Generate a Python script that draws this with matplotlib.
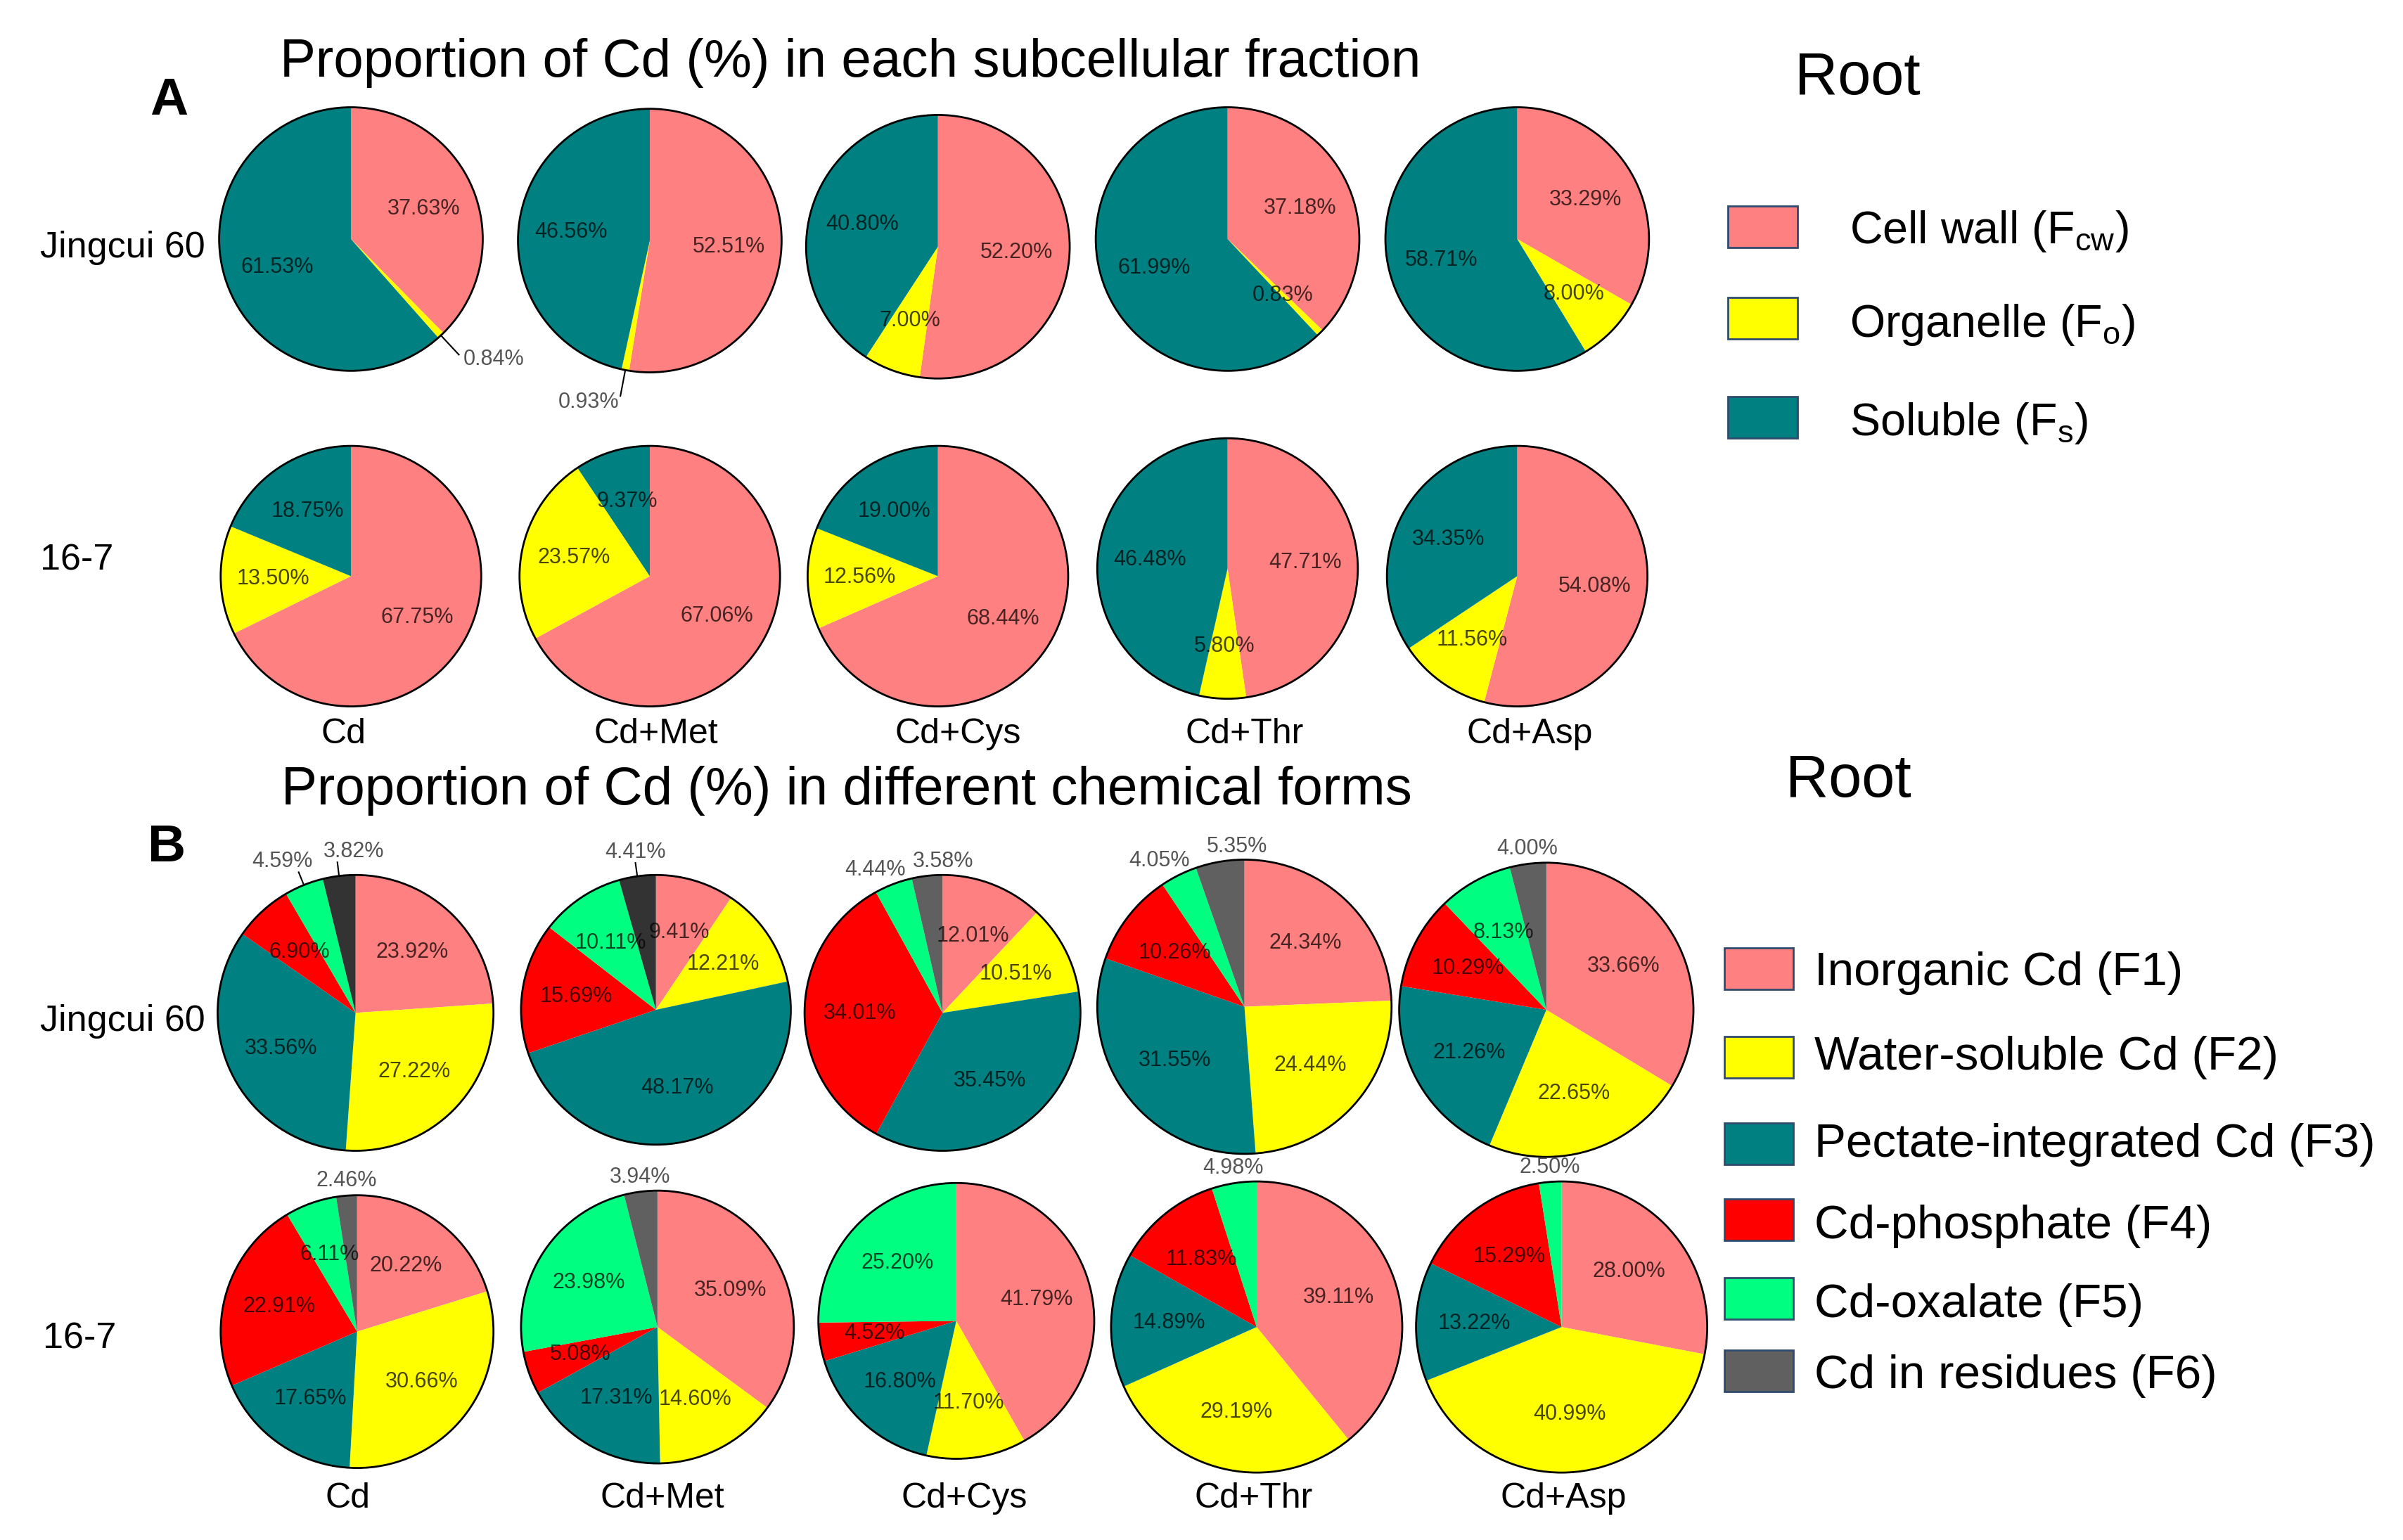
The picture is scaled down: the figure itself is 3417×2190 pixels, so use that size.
import numpy as np
import matplotlib
matplotlib.use('Agg')
import matplotlib.pyplot as plt
from matplotlib.patches import Rectangle, Ellipse
from matplotlib import font_manager

plt.rcParams['font.family'] = ['Liberation Sans', 'DejaVu Sans']
plt.rcParams['mathtext.fontset'] = 'custom'
plt.rcParams['mathtext.rm'] = 'Liberation Sans'
plt.rcParams['mathtext.it'] = 'Liberation Sans:italic'
plt.rcParams['mathtext.bf'] = 'Liberation Sans:bold'

# ---------------- data ----------------
treatments = ['Cd', 'Cd+Met', 'Cd+Cys', 'Cd+Thr', 'Cd+Asp']
cultivars = ['Jingcui 60', '16-7']

title_A = 'Proportion of Cd (%) in each subcellular fraction'
title_B = 'Proportion of Cd (%) in different chemical forms'
tissue = 'Root'

fractions_A = ['Cell wall (F$_{\\mathrm{cw}}$)', 'Organelle (F$_{\\mathrm{o}}$)',
               'Soluble (F$_{\\mathrm{s}}$)']
cell_wall_jc60 = [37.63, 52.51, 52.20, 37.18, 33.29]
organelle_jc60 = [0.84, 0.93, 7.00, 0.83, 8.00]
soluble_jc60 = [61.53, 46.56, 40.80, 61.99, 58.71]
cell_wall_167 = [67.75, 67.06, 68.44, 47.71, 54.08]
organelle_167 = [13.50, 23.57, 12.56, 5.80, 11.56]
soluble_167 = [18.75, 9.37, 19.00, 46.48, 34.35]

forms_B = ['Inorganic Cd (F1)', 'Water-soluble Cd (F2)', 'Pectate-integrated Cd (F3)',
           'Cd-phosphate (F4)', 'Cd-oxalate (F5)', 'Cd in residues (F6)']
f1_jc60 = [23.92, 9.41, 12.01, 24.34, 33.66]
f2_jc60 = [27.22, 12.21, 10.51, 24.44, 22.65]
f3_jc60 = [33.56, 48.17, 35.45, 31.55, 21.26]
f4_jc60 = [6.90, 15.69, 34.01, 10.26, 10.29]
f5_jc60 = [4.59, 10.11, 4.44, 4.05, 8.13]
f6_jc60 = [3.82, 4.41, 3.58, 5.35, 4.00]
f1_167 = [20.22, 35.09, 41.79, 39.11, 28.00]
f2_167 = [30.66, 14.60, 11.70, 29.19, 40.99]
f3_167 = [17.65, 17.31, 16.80, 14.89, 13.22]
f4_167 = [22.91, 5.08, 4.52, 11.83, 15.29]
f5_167 = [6.11, 23.98, 25.20, 4.98, 2.50]
f6_167 = [2.46, 3.94, 0.00, 0.00, 0.00]

# ---------------- style ----------------
PINK, YELLOW, TEAL, RED, GREEN, GRAY = '#FF8080', '#FFFF00', '#008080', '#FF0000', '#00FF80', '#606060'
DARK = '#333333'
colors_A = [PINK, YELLOW, TEAL]
colors_B = [PINK, YELLOW, TEAL, RED, GREEN, GRAY]
BOX_EDGE = '#2f4b6e'
LBL = (0, 0, 0, 0.72)
OUT_LBL = '#555555'

_installed = {f.name for f in font_manager.fontManager.ttflist}
if 'Liberation Sans Narrow' in _installed:
    PCT_FAMILY, PCT_FS = ['Liberation Sans Narrow', 'DejaVu Sans'], 25
else:
    PCT_FAMILY, PCT_FS = ['Liberation Sans', 'DejaVu Sans'], 22

# ---------------- layout (reference-scale units) ----------------
W, H = 1568.0, 1005.0
fig = plt.figure(figsize=(34.17, 21.90), dpi=100)
fig.patch.set_facecolor('white')
ov = fig.add_axes([0, 0, 1, 1])
ov.set_xlim(0, W)
ov.set_ylim(H, 0)
ov.axis('off')

A_cx = [[229, 424, 612, 801, 990], [229, 424, 612, 801, 990]]
A_cy = [[156, 157, 161, 156, 156], [376, 376, 376, 371, 376]]
A_r = [[86, 86, 86, 86, 86], [85, 85, 85, 85, 85]]
B_cx = [[232, 428, 615, 812, 1009], [233, 429, 624, 820, 1019]]
B_cy = [[661, 659, 661, 657, 659], [869, 866, 862, 866, 866]]
B_r = [[90, 88, 90, 96, 96], [89, 89, 90, 95, 95]]


def draw_pie(cx, cy, r, vals, cols, mode, outside=(), leader=False):
    ax = fig.add_axes([(cx - r) / W, 1 - (cy + r) / H, 2 * r / W, 2 * r / H])
    vals = np.asarray(vals, dtype=float)
    idx = [i for i, v in enumerate(vals) if v > 0]
    wedges, _ = ax.pie(vals[idx], colors=[cols[i] for i in idx], startangle=90,
                       counterclock=False, radius=1, wedgeprops=dict(linewidth=0))
    ax.add_patch(Ellipse((0, 0), 2, 2, fill=False, ec='black', lw=2, clip_on=False, zorder=5))
    ax.set_xlim(-1, 1)
    ax.set_ylim(-1, 1)
    ax.set_aspect('auto')
    ax.axis('off')
    n_out = len([i for i in outside if i in idx])
    for w, i in zip(wedges, idx):
        v = vals[i]
        mid = np.deg2rad((w.theta1 + w.theta2) / 2)
        c, s = np.cos(mid), np.sin(mid)
        txt = f'{v:.2f}%'
        kw = dict(fontsize=PCT_FS, family=PCT_FAMILY, zorder=6)
        if i not in outside:
            ax.text(0.6 * c, 0.6 * s, txt, ha='center', va='center', color=LBL, **kw)
        elif mode == 'side':
            ax.plot([c, 1.2 * c], [s, 1.2 * s], color='black', lw=1.5, clip_on=False, zorder=6)
            ax.text(1.25 * c, 1.25 * s, txt, ha='left' if c > 0 else 'right', va='center',
                    color=OUT_LBL, **kw)
        else:
            d = 1.1 if leader else 1.03
            shift = 0.0
            if n_out == 2:
                shift = -0.12 if i == 4 else 0.12
            if leader:
                ax.plot([c, d * c], [s, d * s], color='black', lw=1.5, clip_on=False, zorder=6)
            ax.text(d * c + shift, d * s, txt, ha='center', va='bottom', color=OUT_LBL, **kw)
    return ax


# ---------------- Panel A ----------------
ov.text(555, 50, title_A, ha='center', va='baseline', fontsize=55)
ov.text(110, 75, 'A', ha='center', va='baseline', fontsize=54, fontweight='bold')
ov.text(1171, 61.5, tissue, ha='left', va='baseline', fontsize=61)
ov.text(26, 168, cultivars[0], ha='left', va='baseline', fontsize=37.5)
ov.text(26, 372, cultivars[1], ha='left', va='baseline', fontsize=37.5)

A_rows = [list(zip(cell_wall_jc60, organelle_jc60, soluble_jc60)),
          list(zip(cell_wall_167, organelle_167, soluble_167))]
A_outside = {(0, 0): (1,), (0, 1): (1,)}
for ri, row in enumerate(A_rows):
    for ci, vals in enumerate(row):
        out = A_outside.get((ri, ci), ())
        draw_pie(A_cx[ri][ci], A_cy[ri][ci], A_r[ri][ci], vals, colors_A, 'side',
                 outside=out, leader=bool(out))

A_lab_x = [224, 428, 625, 812, 998]
for x, t in zip(A_lab_x, treatments):
    ov.text(x, 485, t, ha='center', va='baseline', fontsize=36)

A_box_cy = [148, 207.5, 272.5]
A_txt_base = [159, 220, 284]
for yc, yb, lab, col in zip(A_box_cy, A_txt_base, fractions_A, colors_A):
    ov.add_patch(Rectangle((1127.5, yc - 13.5), 45.5, 27, fc=col, ec=BOX_EDGE, lw=2))
    ov.text(1207, yb, lab, ha='left', va='baseline', fontsize=46.5)

# ---------------- Panel B ----------------
ov.text(552.5, 525, title_B, ha='center', va='baseline', fontsize=55)
ov.text(109, 562, 'B', ha='center', va='baseline', fontsize=54, fontweight='bold')
ov.text(1165, 520, tissue, ha='left', va='baseline', fontsize=61)
ov.text(26, 672.6, cultivars[0], ha='left', va='baseline', fontsize=37.5)
ov.text(28, 880, cultivars[1], ha='left', va='baseline', fontsize=37.5)

B_rows = [list(zip(f1_jc60, f2_jc60, f3_jc60, f4_jc60, f5_jc60, f6_jc60)),
          list(zip(f1_167, f2_167, f3_167, f4_167, f5_167, f6_167))]
B_leader = {(0, 0), (0, 1)}
for ri, row in enumerate(B_rows):
    for ci, vals in enumerate(row):
        out = tuple(i for i in (4, 5) if 0 < vals[i] < 5.5)
        cols = list(colors_B)
        if (ri, ci) in B_leader:
            cols[5] = DARK
        draw_pie(B_cx[ri][ci], B_cy[ri][ci], B_r[ri][ci], vals, cols, 'top',
                 outside=out, leader=(ri, ci) in B_leader)

B_lab_x = [227, 432, 629, 818, 1020]
for x, t in zip(B_lab_x, treatments):
    ov.text(x, 984, t, ha='center', va='baseline', fontsize=36)

B_box_cy = [632, 690, 746.5, 796, 847.5, 894.5]
B_txt_base = [643, 698, 755, 808, 859.5, 906]
for yc, yb, lab, col in zip(B_box_cy, B_txt_base, forms_B, colors_B):
    ov.add_patch(Rectangle((1125, yc - 13.5), 45, 27, fc=col, ec=BOX_EDGE, lw=2))
    ov.text(1184, yb, lab, ha='left', va='baseline', fontsize=48.5)

fig.savefig('out.png', dpi=100, facecolor='white')
